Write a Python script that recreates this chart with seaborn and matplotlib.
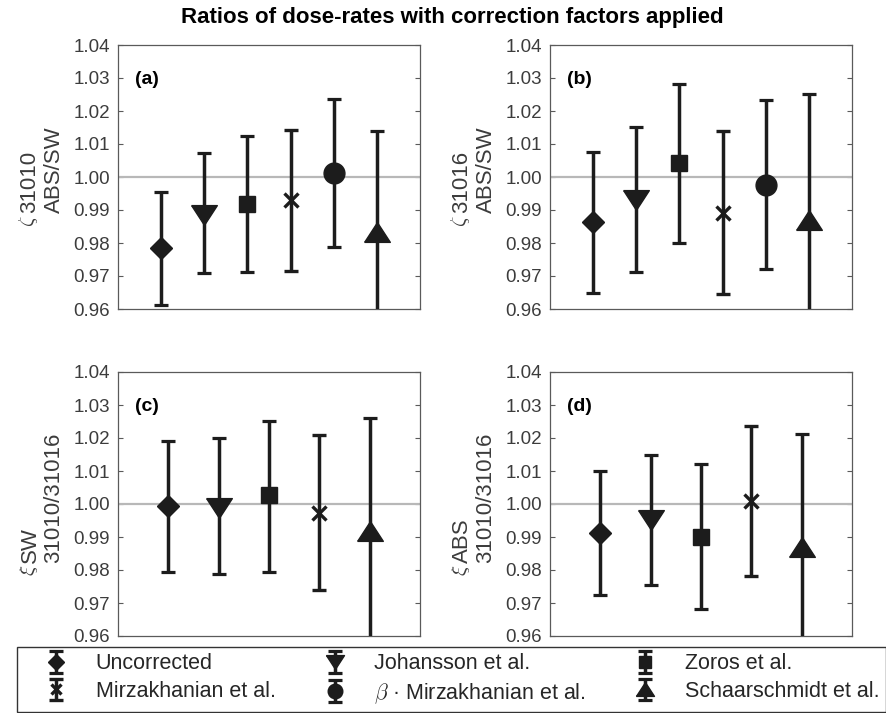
import matplotlib
matplotlib.use("Agg")
import matplotlib.pyplot as plt
import matplotlib.transforms as mtransforms
import seaborn as sns


############### Data
# x positions are just the order of the methods in each panel
methods_ab = ["Uncorrected", "Johansson et al.", "Zoros et al.",
              "Mirzakhanian et al.", r"$\beta$ · Mirzakhanian et al.",
              "Schaarschmidt et al."]
methods_cd = ["Uncorrected", "Johansson et al.", "Zoros et al.",
              "Mirzakhanian et al.", "Schaarschmidt et al."]

# (a) zeta 31010 ABS/SW
a_val = [0.9784, 0.9885, 0.9918, 0.9930, 1.0011, 0.9834]
a_lo = [0.9612, 0.9708, 0.9713, 0.9716, 0.9787, 0.9529]
a_hi = [0.9956, 1.0072, 1.0124, 1.0142, 1.0236, 1.0139]

# (b) zeta 31016 ABS/SW
b_val = [0.9865, 0.9930, 1.0041, 0.9892, 0.9976, 0.9870]
b_lo = [0.9650, 0.9713, 0.9801, 0.9645, 0.9720, 0.9489]
b_hi = [1.0077, 1.0153, 1.0281, 1.0140, 1.0234, 1.0251]

# (c) xi SW 31010/31016
c_val = [0.9995, 0.9988, 1.0026, 0.9972, 0.9917]
c_lo = [0.9795, 0.9787, 0.9795, 0.9740, 0.9574]
c_hi = [1.0192, 1.0200, 1.0253, 1.0210, 1.0260]

# (d) xi ABS 31010/31016
d_val = [0.9912, 0.9952, 0.9901, 1.0008, 0.9871]
d_lo = [0.9723, 0.9755, 0.9682, 0.9782, 0.9529]
d_hi = [1.0101, 1.0147, 1.0122, 1.0237, 1.0213]

yticks = [0.96, 0.97, 0.98, 0.99, 1.00, 1.01, 1.02, 1.03, 1.04]


############### Style
sns.set_theme(style="ticks")
plt.rcParams["font.family"] = ["Liberation Sans", "DejaVu Sans"]
plt.rcParams["mathtext.fontset"] = "cm"

INK = "#1c1c1c"
GREY_TXT = "#3c3c3c"
SPINE = "#5a5a5a"

tri_down = [(-1.3, 1.0), (1.3, 1.0), (0.0, -1.0), (-1.3, 1.0)]
tri_up = [(-1.3, -1.0), (1.3, -1.0), (0.0, 1.0), (-1.3, -1.0)]
marker_style = {
    "Uncorrected": dict(marker="D", ms=11.5),
    "Johansson et al.": dict(marker=tri_down, ms=18.5),
    "Zoros et al.": dict(marker="s", ms=11.5),
    "Mirzakhanian et al.": dict(marker="x", ms=10.5, mew=2.4),
    r"$\beta$ · Mirzakhanian et al.": dict(marker="o", ms=15),
    "Schaarschmidt et al.": dict(marker=tri_up, ms=18.5),
}

fig = plt.figure(figsize=(8.87, 7.13), dpi=100)
W, H = 887, 713


def make_axes(left_px, top_px):
    return fig.add_axes([left_px / W, 1 - (top_px + 264) / H, 302 / W, 264 / H])


def draw_panel(ax, names, vals, lo, hi, tag):
    xs = list(range(1, len(names) + 1))
    ax.axhline(1.0, color="#b8b8b8", lw=1.6, zorder=1)
    handles = {}
    for x, name, v, l, h in zip(xs, names, vals, lo, hi):
        st = marker_style[name]
        cont = ax.errorbar([x], [v], yerr=[[v - l], [h - v]], color=INK,
                           mfc=INK, mec=INK, elinewidth=2.5, capsize=4.7,
                           capthick=2.3, ls="none", label=name, zorder=3,
                           **st)
        handles[name] = cont
    ax.set_xlim(0, len(names) + 1)
    ax.set_ylim(0.96, 1.04)
    ax.set_yticks(yticks)
    ax.set_yticklabels([f"{t:.2f}" for t in yticks])
    ax.set_xticks([])
    ax.tick_params(axis="y", direction="in", length=3.5, width=0.8,
                   color=SPINE, labelcolor=GREY_TXT, labelsize=13.5,
                   pad=5.8, right=True, left=True)
    for sp in ax.spines.values():
        sp.set_visible(True)
        sp.set_color(SPINE)
        sp.set_linewidth(0.9)
    ax.text(0.056, 0.868, tag, transform=ax.transAxes, fontsize=14,
            fontweight="bold", color="black", ha="left", va="center")
    return handles


ax_a = make_axes(118, 45)
ax_b = make_axes(550, 45)
ax_c = make_axes(118, 372)
ax_d = make_axes(550, 372)

h_a = draw_panel(ax_a, methods_ab, a_val, a_lo, a_hi, "(a)")
draw_panel(ax_b, methods_ab, b_val, b_lo, b_hi, "(b)")
draw_panel(ax_c, methods_cd, c_val, c_lo, c_hi, "(c)")
draw_panel(ax_d, methods_cd, d_val, d_lo, d_hi, "(d)")


############### y labels: symbol with stacked super/subscript (rotated)
ident = mtransforms.IdentityTransform()
label_parts = []


def stacked_label(ax, sym, sup, sub):
    bb = ax.get_position()
    x0 = bb.x0 * W
    yc = (bb.y0 + bb.y1) / 2 * H
    kw = dict(rotation=90, rotation_mode="anchor", ha="left",
              va="baseline", transform=ident, color=GREY_TXT)
    t_sym = fig.text(x0 - 84, 0, sym, fontsize=15, **kw)
    t_sup = fig.text(x0 - 82.5, 0, sup, fontsize=16, **kw)
    t_sub = fig.text(x0 - 58.5, 0, sub, fontsize=16, **kw)
    label_parts.append((yc, t_sym, t_sup, t_sub))


stacked_label(ax_a, r"$\zeta$", "31010", "ABS/SW")
stacked_label(ax_b, r"$\zeta$", "31016", "ABS/SW")
stacked_label(ax_c, r"$\xi$", "SW", "31010/31016")
stacked_label(ax_d, r"$\xi$", "ABS", "31010/31016")

fig.canvas.draw()
renderer = fig.canvas.get_renderer()
for yc, t_sym, t_sup, t_sub in label_parts:
    l_sym = t_sym.get_window_extent(renderer).height
    l_rest = max(t_sup.get_window_extent(renderer).height,
                 t_sub.get_window_extent(renderer).height)
    gap = 2
    y0 = yc - (l_sym + gap + l_rest) / 2
    t_sym.set_y(y0)
    t_sup.set_y(y0 + l_sym + gap)
    t_sub.set_y(y0 + l_sym + gap)


############### title and legend
fig.text(0.51, 1 - 18 / H, "Ratios of dose-rates with correction factors applied",
         ha="center", va="center", fontsize=16, fontweight="bold",
         color="black")

# matplotlib fills legend columns first -> reorder to get row-wise order
leg_order = ["Uncorrected", "Mirzakhanian et al.", "Johansson et al.",
             r"$\beta$ · Mirzakhanian et al.", "Zoros et al.",
             "Schaarschmidt et al."]
leg = fig.legend([h_a[n] for n in leg_order], leg_order, ncol=3,
                 loc="lower left", mode="expand",
                 bbox_to_anchor=(17 / W, 1 / H, 869 / W, 0.09),
                 borderaxespad=0, fontsize=15.5, frameon=True,
                 fancybox=False, framealpha=1, edgecolor="#333333",
                 borderpad=0.3, labelspacing=0.3, handlelength=3.0,
                 handletextpad=0.35, markerscale=0.7, numpoints=1)
leg.get_frame().set_linewidth(1.0)

fig.savefig("out.png", dpi=100)
